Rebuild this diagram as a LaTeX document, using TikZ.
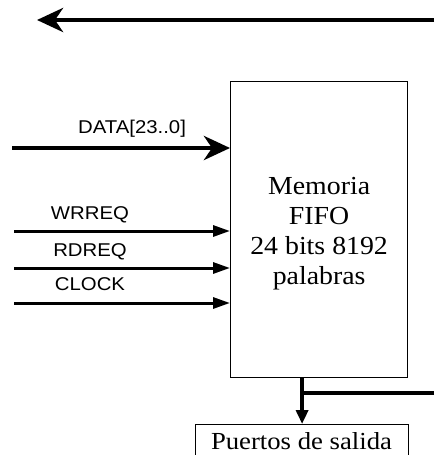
\documentclass[tikz,border=0pt]{standalone}
\usepackage{fontspec}
\setmainfont{Liberation Serif}
\setsansfont{Liberation Sans}
\usetikzlibrary{arrows.meta}
\begin{document}
\begin{tikzpicture}[x=1pt,y=-1pt,
  blockbox/.style={draw,line width=1.2pt,inner sep=0pt},
  sig/.style={font=\sffamily\fontsize{18.5}{20}\selectfont,xscale=1.1,inner sep=0pt},
  bigarrow/.style={line width=4.5pt,-{Stealth[length=26pt,width=24pt,inset=8pt]}},
  smallarrow/.style={line width=3pt,-{Triangle[length=17pt,width=11pt]}},
  busline/.style={line width=4.5pt}
]
\useasboundingbox (0,0) rectangle (434,455);
\node[blockbox,minimum width=177pt,minimum height=296pt,anchor=north west] (fifo) at (230,81) {};
\node[align=center,font=\fontsize{26}{30}\selectfont,xscale=1.07,inner sep=0pt] (ftext)
      at ([yshift=-4pt]fifo.center) {Memoria\\FIFO\\24 bits 8192\\palabras};
\node[blockbox,minimum width=213pt,minimum height=40pt,anchor=north west] (out) at (195,424) {};
\node[anchor=base,font=\fontsize{24.5}{28}\selectfont,xscale=1.09,inner sep=0pt] (otext)
      at (301.5,449) {Puertos de salida};
% top arrow
\coordinate (topR) at (434,20);
\coordinate (topL) at (37,20);
\draw[bigarrow] (topR) -- (topL);
% inputs
\coordinate (dIn) at (12,148);
\draw[bigarrow] (dIn) -- (dIn -| fifo.west);
\node[sig] (ldata) at (132,129) {DATA[23..0]};
\coordinate (wIn) at (14,231);
\draw[smallarrow] (wIn) -- (wIn -| fifo.west);
\node[sig] (lw) at (90,215) {WRREQ};
\coordinate (rIn) at (14,268);
\draw[smallarrow] (rIn) -- (rIn -| fifo.west);
\node[sig] (lr) at (90,252) {RDREQ};
\coordinate (cIn) at (14,303);
\draw[smallarrow] (cIn) -- (cIn -| fifo.west);
\node[sig] (lc) at (90,284) {CLOCK};
% output
\draw[line width=4.5pt,-{Triangle[length=14pt,width=12pt]}] (out.north |- fifo.south) -- (out.north);
\coordinate (busR) at (434,393);
\draw[busline] (busR) -- (busR -| out.north);
\end{tikzpicture}
\end{document}
